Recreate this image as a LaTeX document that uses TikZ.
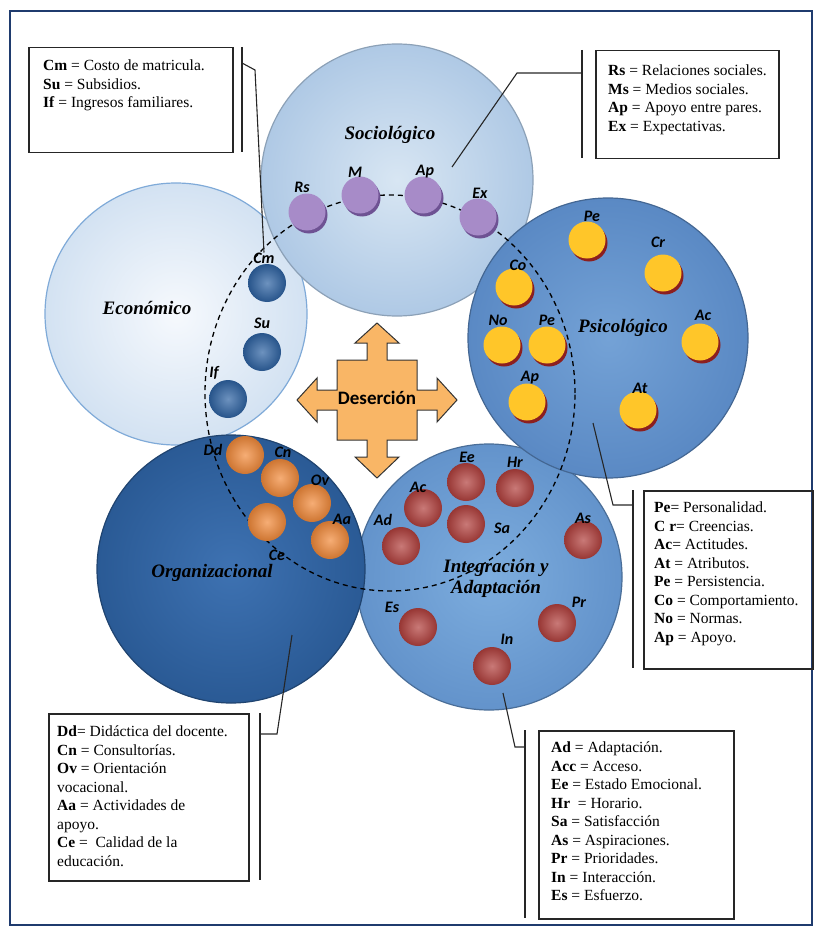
\documentclass[tikz,border=0pt]{standalone}
\usepackage{fontspec}
\setmainfont{Liberation Serif}
\newfontfamily\lblfont{Carlito}
\usetikzlibrary{shadows}

\definecolor{frameblue}{HTML}{1F3B6E}
\definecolor{socioIn}{HTML}{D8E6F3}
\definecolor{socioOut}{HTML}{AFC9E5}
\definecolor{ecoIn}{HTML}{F6F9FD}
\definecolor{ecoOut}{HTML}{D3E2F2}
\definecolor{ecoEdge}{HTML}{7FAAD8}
\definecolor{psicoIn}{HTML}{74A2D6}
\definecolor{psicoOut}{HTML}{5A89C4}
\definecolor{orgaIn}{HTML}{3E72B2}
\definecolor{orgaOut}{HTML}{2A5A95}
\definecolor{integIn}{HTML}{7DADDE}
\definecolor{integOut}{HTML}{6393CB}
\definecolor{purpleBall}{HTML}{A78BC8}
\definecolor{purpleShade}{HTML}{6E5293}
\definecolor{yellowBall}{HTML}{FFC629}
\definecolor{yellowShade}{HTML}{8C1F1F}
\definecolor{blueBall}{HTML}{2E63A3}
\definecolor{orangeBall}{HTML}{F28A3A}
\definecolor{redBall}{HTML}{B2403D}
\definecolor{crossFill}{HTML}{F9B666}

\begin{document}
\begin{tikzpicture}[x=1pt, y=-1pt,
  every node/.style = {inner sep=0pt},
  area/.style = {circle, line width=1.2pt},
  title/.style = {font=\bfseries\itshape\fontsize{19}{21}\selectfont},
  tag/.style = {font=\lblfont\bfseries\itshape\fontsize{16}{16}\selectfont},
  flatball/.style 2 args = {circle, minimum size=37pt, fill=#1,
    drop shadow={shadow xshift=2pt, shadow yshift=-3pt, fill=#2, opacity=1}},
  roundball/.style = {circle, minimum size=38pt, shading=radial,
    inner color=#1!70!white, outer color=#1!85!black},
  legend/.style = {draw=black!85, line width=1.5pt, anchor=north west},
  legtext/.style = {anchor=north west, align=left, font=\fontsize{15.5}{18.5}\selectfont},
  bar/.style = {draw=black!85, line width=1.5pt},
  leader/.style = {draw=black!85, line width=1.1pt}]

  \useasboundingbox (0,0) rectangle (814,928);
  \draw[frameblue, line width=2.5pt] (10,11) rectangle (812,925);

  % areas
  \node[area, minimum size=262pt, draw=ecoEdge, inner color=ecoIn, outer color=ecoOut] (eco) at (176,314) {};
  \node[area, minimum size=272pt, draw=socioOut!80!black, inner color=socioIn, outer color=socioOut] (socio) at (397,180) {};
  \node[area, minimum size=266pt, draw=integOut!75!black, inner color=integIn, outer color=integOut] (integ) at (489,577) {};
  \node[area, minimum size=280pt, draw=psicoOut!75!black, inner color=psicoIn, outer color=psicoOut] (psico) at (608,338) {};
  \node[area, minimum size=268pt, draw=orgaOut!75!black, inner color=orgaIn, outer color=orgaOut] (orga) at (231,569) {};

  \node[title] (socioT) at (390,135) {Sociológico};
  \node[title] (ecoT) at (147,308) {Económico};
  \node[title] (psicoT) at (623,328) {Psicológico};
  \node[title] (orgaT) at (212,573) {Organizacional};
  \node[title, align=center] (integT) at (496,578) {Integración y\\Adaptación};

  \draw[line width=1.3pt, dash pattern=on 5pt off 4pt] (390,393) ellipse [x radius=185pt, y radius=198pt];

  % Desercion
  \draw[fill=crossFill, draw=black!80, line width=1pt, shift={(377,400)}]
    (0,-77) -- (22,-57) -- (10,-57) -- (10,-40) -- (40,-40) -- (40,-10) -- (60,-10) -- (60,-22)
    -- (80,0) -- (60,22) -- (60,10) -- (40,10) -- (40,40) -- (10,40) -- (10,57) -- (22,57)
    -- (0,78) -- (-22,57) -- (-10,57) -- (-10,40) -- (-40,40) -- (-40,10) -- (-60,10) -- (-60,22)
    -- (-80,0) -- (-60,-22) -- (-60,-10) -- (-40,-10) -- (-40,-40) -- (-10,-40) -- (-10,-57) -- (-22,-57) -- cycle;
  \node[font=\lblfont\bfseries\fontsize{19}{19}\selectfont] (deser) at (377,398) {Deserción};

  % sociologico
  \node[flatball={purpleBall}{purpleShade}] (bRs) at (307,212) {};
  \node[flatball={purpleBall}{purpleShade}] (bM) at (360,195) {};
  \node[flatball={purpleBall}{purpleShade}] (bAp) at (423,195) {};
  \node[flatball={purpleBall}{purpleShade}] (bEx) at (478,217) {};
  \node[tag] (tRs) at (302,187) {Rs};
  \node[tag] (tM) at (355,172) {M};
  \node[tag] (tAp) at (425,172) {Ap};
  \node[tag] (tEx) at (480,193) {Ex};

  % economico
  \node[roundball=blueBall] (bCm) at (267,283) {};
  \node[roundball=blueBall] (bSu) at (262,352) {};
  \node[roundball=blueBall] (bIf) at (228,399) {};
  \node[tag] (tCm) at (264,258) {Cm};
  \node[tag] (tSu) at (262,323) {Su};
  \node[tag] (tIf) at (214,373) {If};

  % psicologico
  \node[flatball={yellowBall}{yellowShade}] (bPe) at (587,240) {};
  \node[flatball={yellowBall}{yellowShade}] (bCr) at (663,273) {};
  \node[flatball={yellowBall}{yellowShade}] (bCo) at (514,287) {};
  \node[flatball={yellowBall}{yellowShade}] (bNo) at (502,345) {};
  \node[flatball={yellowBall}{yellowShade}] (bPe2) at (547,345) {};
  \node[flatball={yellowBall}{yellowShade}] (bAc) at (700,342) {};
  \node[flatball={yellowBall}{yellowShade}] (bAp2) at (527,402) {};
  \node[flatball={yellowBall}{yellowShade}] (bAt) at (638,410) {};
  \node[tag] (tPe) at (592,216) {Pe};
  \node[tag] (tCr) at (658,242) {Cr};
  \node[tag] (tCo) at (518,265) {Co};
  \node[tag] (tNo) at (498,320) {No};
  \node[tag] (tPe2) at (547,320) {Pe};
  \node[tag] (tAc) at (703,315) {Ac};
  \node[tag] (tAp2) at (530,378) {Ap};
  \node[tag] (tAt) at (640,388) {At};

  % organizacional
  \node[roundball=orangeBall] (bDd) at (245,455) {};
  \node[roundball=orangeBall] (bCn) at (280,478) {};
  \node[roundball=orangeBall] (bOv) at (312,503) {};
  \node[roundball=orangeBall] (bCe) at (267,522) {};
  \node[roundball=orangeBall] (bAa) at (330,540) {};
  \node[tag] (tDd) at (213,450) {Dd};
  \node[tag] (tCn) at (283,452) {Cn};
  \node[tag] (tOv) at (320,480) {Ov};
  \node[tag] (tAa) at (342,519) {Aa};
  \node[tag] (tCe) at (277,555) {Ce};

  % integracion
  \node[roundball=redBall] (bEe) at (466,482) {};
  \node[roundball=redBall] (bHr) at (515,488) {};
  \node[roundball=redBall] (bAc2) at (423,508) {};
  \node[roundball=redBall] (bSa) at (466,524) {};
  \node[roundball=redBall] (bAd) at (401,546) {};
  \node[roundball=redBall] (bAs) at (583,540) {};
  \node[roundball=redBall] (bEs) at (418,627) {};
  \node[roundball=redBall] (bPr) at (557,623) {};
  \node[roundball=redBall] (bIn) at (492,666) {};
  \node[tag] (tEe) at (467,457) {Ee};
  \node[tag] (tHr) at (515,462) {Hr};
  \node[tag] (tAc2) at (418,487) {Ac};
  \node[tag] (tAd) at (383,520) {Ad};
  \node[tag] (tSa) at (502,528) {Sa};
  \node[tag] (tAs) at (583,518) {As};
  \node[tag] (tEs) at (392,607) {Es};
  \node[tag] (tPr) at (579,602) {Pr};
  \node[tag] (tIn) at (507,639) {In};

  % legends
  \node[legend, minimum width=204pt, minimum height=105pt] (ecoBox) at (28,47) {};
  \node[legtext] (ecoTxt) at (43,60) {\textbf{Cm} = Costo de matricula.\\ \textbf{Su} = Subsidios.\\ \textbf{If} = Ingresos familiares.};
  \node[legend, minimum width=183pt, minimum height=108pt] (socioBox) at (595,50) {};
  \node[legtext] (socioTxt) at (608,65) {\textbf{Rs} = Relaciones sociales.\\ \textbf{Ms} = Medios sociales.\\ \textbf{Ap} = Apoyo entre pares.\\ \textbf{Ex} = Expectativas.};
  \node[legend, minimum width=169pt, minimum height=178pt] (psicoBox) at (643,490) {};
  \node[legtext] (psicoTxt) at (654,502) {\textbf{Pe}= Personalidad.\\ \textbf{C r}= Creencias.\\ \textbf{Ac}= Actitudes.\\ \textbf{At} = Atributos.\\ \textbf{Pe} = Persistencia.\\ \textbf{Co} = Comportamiento.\\ \textbf{No} = Normas.\\ \textbf{Ap} = Apoyo.};
  \node[legend, minimum width=200pt, minimum height=167pt] (orgaBox) at (48,713) {};
  \node[legtext] (orgaTxt) at (57,726) {\textbf{Dd}= Didáctica del docente.\\ \textbf{Cn} = Consultorías.\\ \textbf{Ov} = Orientación\\ vocacional.\\ \textbf{Aa} = Actividades de\\ apoyo.\\ \textbf{Ce} =\ \ Calidad de la\\ educación.};
  \node[legend, minimum width=195pt, minimum height=188pt] (integBox) at (538,730) {};
  \node[legtext] (integTxt) at (551,742) {\textbf{Ad} = Adaptación.\\ \textbf{Acc} = Acceso.\\ \textbf{Ee} = Estado Emocional.\\ \textbf{Hr}\ \ = Horario.\\ \textbf{Sa} = Satisfacción\\ \textbf{As} = Aspiraciones.\\ \textbf{Pr} = Prioridades.\\ \textbf{In} = Interacción.\\ \textbf{Es} = Esfuerzo.};

  % bars and leaders
  \draw[bar] (242,47) -- (242,152);
  \draw[bar] (582,50) -- (582,158);
  \draw[bar] (633,490) -- (633,668);
  \draw[bar] (260,713) -- (260,880);
  \draw[bar] (525,730) -- (525,918);
  \draw[leader] (242,63) -- (255,70) -- (tCm.north);
  \draw[leader] (582,73) -- (517,73) -- (452,167);
  \draw[leader] (633,505) -- (613,505) -- (593,423);
  \draw[leader] (260,734) -- (277,734) -- (292,635);
  \draw[leader] (525,747) -- (515,747) -- (503,693);
\end{tikzpicture}
\end{document}
